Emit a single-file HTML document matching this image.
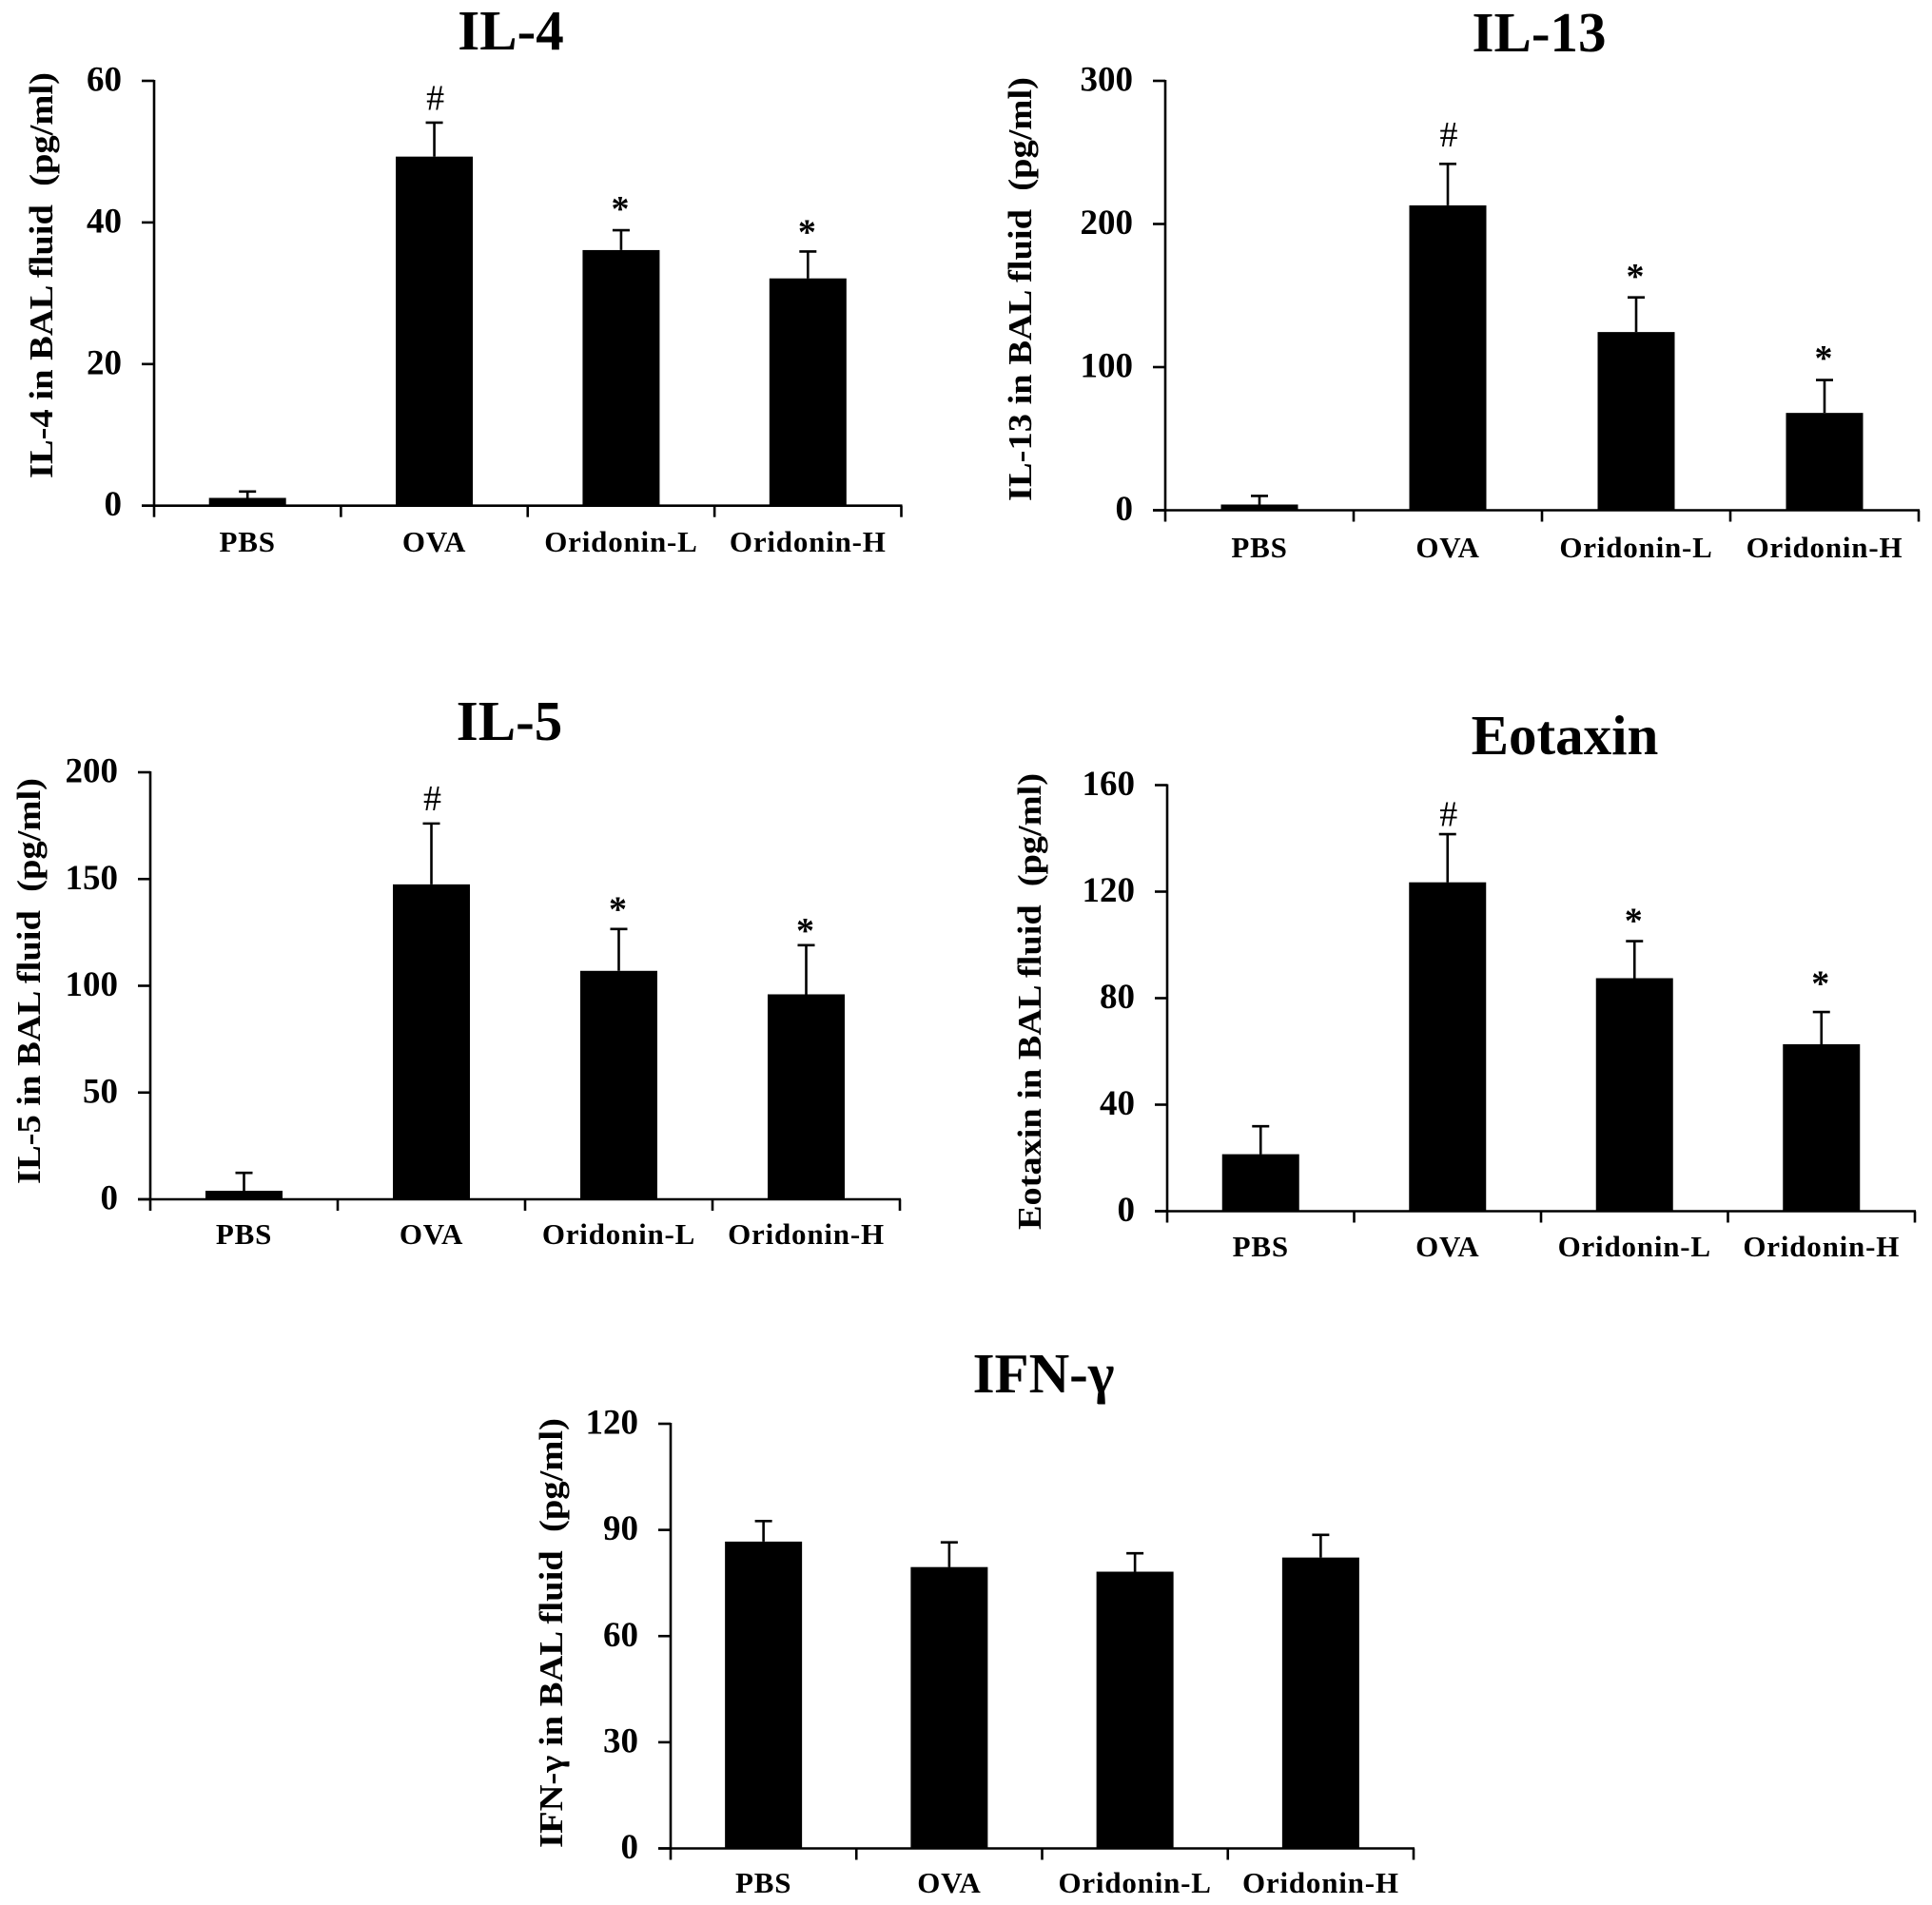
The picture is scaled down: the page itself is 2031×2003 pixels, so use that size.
<!DOCTYPE html>
<html lang="en">
<head>
<meta charset="utf-8">
<title>Cytokine levels in BAL fluid</title>
<style>
  html, body { margin: 0; padding: 0; background: #fff; }
  svg { display: block; font-family: "Liberation Serif", "DejaVu Serif", serif; }
  text { fill: #000; }
</style>
</head>
<body>
<svg id="figure" xmlns="http://www.w3.org/2000/svg" width="2031" height="2003" viewBox="0 0 2031 2003"></svg>
<script>
const categories = ["PBS", "OVA", "Oridonin-L", "Oridonin-H"];

const il4Ticks = [0, 20, 40, 60];
const il4Values = [1.1, 49.3, 36.1, 32.1];
const il4Errors = [0.9, 4.8, 2.8, 3.8];
const il4Marks = ["", "#", "*", "*"];
const il4MarkLevels = [0, 57.5, 42.3, 39];

const il13Ticks = [0, 100, 200, 300];
const il13Values = [4, 213, 124.5, 68];
const il13Errors = [6, 29, 24.2, 23];
const il13Marks = ["", "#", "*", "*"];
const il13MarkLevels = [0, 262, 165, 108];

const il5Ticks = [0, 50, 100, 150, 200];
const il5Values = [4, 147.5, 107, 96];
const il5Errors = [8.4, 28.5, 19.6, 23];
const il5Marks = ["", "#", "*", "*"];
const il5MarkLevels = [0, 187.5, 137, 127];

const eotaxinTicks = [0, 40, 80, 120, 160];
const eotaxinValues = [21.4, 123.5, 87.5, 62.7];
const eotaxinErrors = [10.5, 18.1, 13.9, 12.1];
const eotaxinMarks = ["", "#", "*", "*"];
const eotaxinMarkLevels = [0, 149, 110, 86.5];

const ifnTicks = [0, 30, 60, 90, 120];
const ifnValues = [86.7, 79.5, 78.2, 82.2];
const ifnErrors = [5.8, 7, 5.2, 6.4];
const ifnMarks = ["", "", "", ""];
const ifnMarkLevels = [0, 0, 0, 0];

const NS = "http://www.w3.org/2000/svg";
const figure = document.getElementById("figure");

function make(parent, tag, attrs, content) {
  const el = document.createElementNS(NS, tag);
  for (const k in attrs) el.setAttribute(k, attrs[k]);
  if (content !== undefined) el.textContent = content;
  parent.appendChild(el);
  return el;
}

function drawPanel(p) {
  const group = make(figure, "g", {});
  
  

  const maxTick = p.ticks[p.ticks.length - 1];
  const yScale = v => p.y0 - (v / maxTick) * (p.y0 - p.yTop);
  const slot = (p.x1 - p.x0) / p.categories.length;
  const xScale = i => p.x0 + slot * (i + 0.5);
  const barW = 81;

  const title = make(group, "text", { x: p.titleX, y: p.titleY, "text-anchor": "middle", "font-size": 59, "font-weight": "bold" }, p.title);
  
  

  const yTitle = make(group, "text", {
    transform: "translate(" + p.labelX + "," + p.labelBottom + ") rotate(-90)",
    "font-size": 35, "font-weight": "bold",
    textLength: p.labelBottom - p.labelTop, lengthAdjust: "spacingAndGlyphs"
  }, p.yLabel);
  
  

  p.values.forEach((v, i) => {
    const cx = xScale(i);
    const top = yScale(v);
    const bar = make(group, "rect", { x: cx - barW / 2, y: top, width: barW, height: p.y0 - top, fill: "#000" });
    
    

    const errTop = yScale(v + p.errors[i]);
    const err = make(group, "path", {
      d: "M" + cx + " " + top + "V" + errTop + "M" + (cx - 9) + " " + errTop + "H" + (cx + 9),
      stroke: "#000", "stroke-width": 2.6, fill: "none"
    });
    
    

    const symbol = p.marks[i];
    if (symbol) {
      const isHash = symbol === "#";
      const mark = make(group, "text", {
        x: cx + (isHash ? 1 : -1),
        y: yScale(p.markLevels[i]) + (isHash ? 12 : 15),
        "text-anchor": "middle",
        "font-size": 38,
        "font-weight": isHash ? "normal" : "bold"
      }, symbol);
      
      
    }

    const cat = make(group, "text", {
      x: cx, y: p.catY, "text-anchor": "middle",
      "font-size": 31, "font-weight": "bold", "letter-spacing": 0.8
    }, p.categories[i]);
    
    
  });

  const yAxis = make(group, "line", { x1: p.x0, x2: p.x0, y1: p.yTop - 1, y2: p.y0 + 1, stroke: "#000", "stroke-width": 2.6 });
  
  

  const xAxis = make(group, "line", { x1: p.x0 - 13, x2: p.x1 + 1, y1: p.y0, y2: p.y0, stroke: "#000", "stroke-width": 2.6 });
  
  

  p.ticks.forEach(t => {
    const y = yScale(t);
    const tick = make(group, "line", { x1: p.x0 - 13, x2: p.x0, y1: y, y2: y, stroke: "#000", "stroke-width": 2.6 });
    
    

    const label = make(group, "text", { x: p.x0 - 34, y: y + 10.5, "text-anchor": "end", "font-size": 37, "font-weight": "bold" }, String(t));
    
    
  });

  for (let i = 0; i <= p.categories.length; i++) {
    const x = p.x0 + slot * i;
    const tick = make(group, "line", { x1: x, x2: x, y1: p.y0, y2: p.y0 + 12, stroke: "#000", "stroke-width": 2.6 });
    
    
  }
}

drawPanel({
  key: "il-4", title: "IL-4", yLabel: "IL-4 in BAL fluid\u00a0\u00a0(pg/ml)",
  categories, ticks: il4Ticks, values: il4Values, errors: il4Errors, marks: il4Marks, markLevels: il4MarkLevels,
  x0: 162, x1: 947.5, yTop: 85, y0: 531.7, titleX: 537, titleY: 52, labelX: 55, labelTop: 76, labelBottom: 503, catY: 580
});
drawPanel({
  key: "il-13", title: "IL-13", yLabel: "IL-13 in BAL fluid\u00a0\u00a0(pg/ml)",
  categories, ticks: il13Ticks, values: il13Values, errors: il13Errors, marks: il13Marks, markLevels: il13MarkLevels,
  x0: 1225, x1: 2017, yTop: 85, y0: 536.5, titleX: 1618, titleY: 54, labelX: 1084, labelTop: 81, labelBottom: 527, catY: 586
});
drawPanel({
  key: "il-5", title: "IL-5", yLabel: "IL-5 in BAL fluid\u00a0\u00a0(pg/ml)",
  categories, ticks: il5Ticks, values: il5Values, errors: il5Errors, marks: il5Marks, markLevels: il5MarkLevels,
  x0: 158, x1: 946, yTop: 812, y0: 1261, titleX: 535.5, titleY: 778, labelX: 42, labelTop: 818, labelBottom: 1245, catY: 1308
});
drawPanel({
  key: "eotaxin", title: "Eotaxin", yLabel: "Eotaxin in BAL fluid\u00a0\u00a0(pg/ml)",
  categories, ticks: eotaxinTicks, values: eotaxinValues, errors: eotaxinErrors, marks: eotaxinMarks, markLevels: eotaxinMarkLevels,
  x0: 1227, x1: 2013, yTop: 825.5, y0: 1273.5, titleX: 1645, titleY: 793, labelX: 1094, labelTop: 813, labelBottom: 1293, catY: 1321
});
drawPanel({
  key: "ifn-gamma", title: "IFN-\u03b3", yLabel: "IFN-\u03b3 in BAL fluid\u00a0\u00a0(pg/ml)",
  categories, ticks: ifnTicks, values: ifnValues, errors: ifnErrors, marks: ifnMarks, markLevels: ifnMarkLevels,
  x0: 705, x1: 1486, yTop: 1497, y0: 1943.5, titleX: 1097, titleY: 1464, labelX: 591, labelTop: 1491, labelBottom: 1943, catY: 1990
});
</script>
</body>
</html>
